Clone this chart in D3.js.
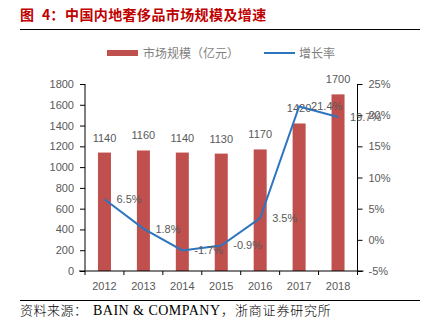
<!DOCTYPE html>
<html><head><meta charset="utf-8">
<script src="https://cdn.jsdelivr.net/npm/d3@7"></script>
<style>body{margin:0;background:#fff}svg{display:block}</style>
</head><body>
<svg id="c" width="426" height="331"></svg>
<script>
const years = ["2012","2013","2014","2015","2016","2017","2018"];
const marketSize = [1140,1160,1140,1130,1170,1420,1700];
const growthRate = [6.5,1.8,-1.7,-0.9,3.5,21.4,19.7];
const leftTicks = [0,200,400,600,800,1000,1200,1400,1600,1800];
const rightTicks = [-5,0,5,10,15,20,25];

const svg = d3.select("#c");
const L = 85, R = 357.5, T = 84, B = 271;
const lab = "'Liberation Sans', Arial, sans-serif";
const cjk = "'Noto Sans CJK SC', sans-serif";
const grey = "#595959";

// title
const title = svg.append("text").attr("y",20).attr("fill","#c00000")
  .attr("font-family",cjk).attr("font-weight","bold").attr("font-size",14);
title.append("tspan").attr("x",20).text("图");
title.append("tspan").attr("x",42).text("4：");
title.append("tspan").attr("x",65).attr("letter-spacing",0.4).text("中国内地奢侈品市场规模及增速");
svg.append("line").attr("x1",20).attr("x2",420).attr("y1",29.5).attr("y2",29.5).attr("stroke","#000").attr("stroke-width",1);

// legend
svg.append("rect").attr("x",107).attr("y",50).attr("width",31).attr("height",6).attr("fill","#c0504d");
svg.append("text").attr("x",143).attr("y",57.5).attr("fill","#7f7f7f").attr("font-size",12)
  .attr("font-family",cjk).text("市场规模（亿元）");
svg.append("line").attr("x1",264).attr("x2",295).attr("y1",53).attr("y2",53).attr("stroke","#2e75c0").attr("stroke-width",2);
svg.append("text").attr("x",299).attr("y",57.5).attr("fill","#7f7f7f").attr("font-size",12)
  .attr("font-family",cjk).text("增长率");

const x = d3.scaleBand().domain(years).range([L,R]);
const y = d3.scaleLinear().domain([0,1800]).range([B,T]);
const y2 = d3.scaleLinear().domain([-5,25]).range([B,T]);

// bars
svg.append("g").selectAll("rect").data(marketSize).join("rect")
  .attr("x",(d,i)=>x(years[i])+x.bandwidth()/2-6.5).attr("width",13)
  .attr("y",d=>y(d)).attr("height",d=>B-y(d)).attr("fill","#c0504d");
svg.append("g").selectAll("text").data(marketSize).join("text")
  .attr("x",(d,i)=>x(years[i])+x.bandwidth()/2).attr("y",d=>y(d)-11)
  .attr("text-anchor","middle").attr("fill",grey).attr("font-size",11).attr("font-family",lab).text(d=>d);

// axes
const gl = svg.append("g").attr("transform",`translate(${L},0)`)
  .call(d3.axisLeft(y).tickValues(leftTicks).tickSize(5).tickPadding(6).tickFormat(d3.format("d")));
const gr = svg.append("g").attr("transform",`translate(${R},0)`)
  .call(d3.axisRight(y2).tickValues(rightTicks).tickSize(5).tickPadding(6).tickFormat(d=>d+"%"));
const gb = svg.append("g").attr("transform",`translate(0,${B})`)
  .call(d3.axisBottom(x).tickSize(0).tickPadding(11));
[gl,gr,gb].forEach(g=>{
  g.selectAll("text").attr("fill",grey).attr("font-size",11).attr("font-family",lab);
  g.selectAll("line").attr("stroke","#000");
  g.select(".domain").attr("stroke","#000");
});
gl.select(".domain").attr("d",`M0,${T}V${B}`);
gr.select(".domain").attr("d",`M0,${T}V${B}`);
gb.select(".domain").attr("d",`M${L-6},0H${R+6}`);
gb.append("g").selectAll("line").data(d3.range(years.length+1)).join("line")
  .attr("x1",i=>L+i*x.step()).attr("x2",i=>L+i*x.step()).attr("y1",0).attr("y2",4).attr("stroke","#000");

// line
const line = d3.line().x((d,i)=>x(years[i])+x.bandwidth()/2).y(d=>y2(d));
svg.append("path").datum(growthRate).attr("d",line).attr("fill","none")
  .attr("stroke","#2e75c0").attr("stroke-width",2);
svg.append("g").selectAll("text").data(growthRate).join("text")
  .attr("x",(d,i)=>x(years[i])+x.bandwidth()/2+12).attr("y",d=>y2(d)+4)
  .attr("fill",grey).attr("font-size",11).attr("font-family",lab).text(d=>d.toFixed(1)+"%");

// footer
svg.append("line").attr("x1",20).attr("x2",420).attr("y1",300.5).attr("y2",300.5).attr("stroke","#000").attr("stroke-width",1);
const foot = svg.append("text").attr("y",315).attr("fill","#000").attr("font-size",13)
  .attr("font-family","'Liberation Serif', 'Noto Sans CJK SC', serif");
foot.append("tspan").attr("x",20).attr("letter-spacing",0.5).attr("font-weight",300).text("资料来源：");
foot.append("tspan").attr("x",93).attr("font-size",14).attr("textLength",127).attr("lengthAdjust","spacing").text("BAIN & COMPANY");
foot.append("tspan").attr("x",221).attr("font-weight",300).text("，");
foot.append("tspan").attr("x",235).attr("letter-spacing",0.8).attr("font-weight",300).text("浙商证券研究所");
</script>
</body></html>
